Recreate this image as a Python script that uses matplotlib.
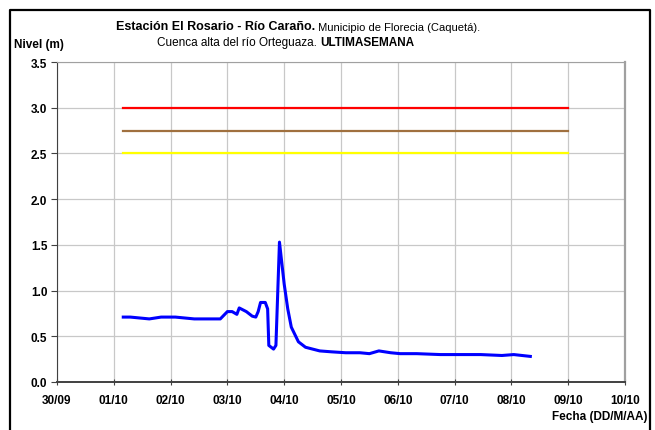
import pandas as pd
import matplotlib
matplotlib.use("Agg")
import matplotlib.pyplot as plt
import matplotlib.dates as mdates

plt.rcParams["font.family"] = ["Liberation Sans", "DejaVu Sans"]

# serie de nivel (m)
fechas = [
    "2024-10-01 04:00", "2024-10-01 07:00", "2024-10-01 11:00", "2024-10-01 15:00",
    "2024-10-01 20:00", "2024-10-02 02:00", "2024-10-02 06:00", "2024-10-02 10:00",
    "2024-10-02 17:00", "2024-10-02 21:00", "2024-10-03 00:00", "2024-10-03 02:00",
    "2024-10-03 04:00", "2024-10-03 05:00", "2024-10-03 08:00", "2024-10-03 10:30",
    "2024-10-03 12:00", "2024-10-03 13:00", "2024-10-03 14:00", "2024-10-03 16:00",
    "2024-10-03 17:00", "2024-10-03 17:30", "2024-10-03 19:30", "2024-10-03 20:30",
    "2024-10-03 22:00", "2024-10-04 00:00", "2024-10-04 01:30", "2024-10-04 03:00",
    "2024-10-04 06:00", "2024-10-04 09:00", "2024-10-04 12:00", "2024-10-04 15:00",
    "2024-10-04 20:00", "2024-10-05 02:00", "2024-10-05 08:00", "2024-10-05 12:00",
    "2024-10-05 16:00", "2024-10-05 21:00", "2024-10-06 01:00", "2024-10-06 08:00",
    "2024-10-06 18:00", "2024-10-07 03:00", "2024-10-07 11:00", "2024-10-07 20:00",
    "2024-10-08 01:00", "2024-10-08 08:00",
]
nivel = [
    0.71, 0.71, 0.70, 0.69,
    0.71, 0.71, 0.70, 0.69,
    0.69, 0.69, 0.77, 0.77,
    0.74, 0.81, 0.77, 0.72,
    0.71, 0.77, 0.87, 0.87,
    0.80, 0.40, 0.36, 0.40,
    1.53, 1.07, 0.80, 0.60,
    0.44, 0.38, 0.36, 0.34,
    0.33, 0.32, 0.32, 0.31,
    0.34, 0.32, 0.31, 0.31,
    0.30, 0.30, 0.30, 0.29,
    0.30, 0.28,
]

# umbrales de alerta
umbral_inicio = "2024-10-01 04:00"
umbral_fin = "2024-10-09 00:00"
umbral_roja = 3.0
umbral_naranja = 2.75
umbral_amarilla = 2.5

x_inicio = "2024-09-30"
x_fin = "2024-10-10"

fig = plt.figure(figsize=(6.55, 4.31), dpi=100)
ax = fig.add_axes([57 / 655, 1 - 383 / 431, (625 - 57) / 655, (383 - 63) / 431])

t = pd.to_datetime(fechas)
t0, t1 = pd.to_datetime([umbral_inicio, umbral_fin])

ax.plot([t0, t1], [umbral_roja] * 2, color="#ff0000", lw=1.6, zorder=3)
ax.plot([t0, t1], [umbral_naranja] * 2, color="#a0703f", lw=1.6, zorder=3)
ax.plot([t0, t1], [umbral_amarilla] * 2, color="#ffff00", lw=1.6, zorder=3)
ax.plot(t, nivel, color="#0000ff", lw=2.2, zorder=4)

ax.set_xlim(pd.to_datetime(x_inicio), pd.to_datetime(x_fin))
ax.set_ylim(0, 3.5)
ax.set_yticks([0, 0.5, 1.0, 1.5, 2.0, 2.5, 3.0, 3.5])
ax.yaxis.set_major_formatter(matplotlib.ticker.FormatStrFormatter("%.1f"))
ax.xaxis.set_major_locator(mdates.DayLocator())
ax.xaxis.set_major_formatter(mdates.DateFormatter("%d/%m"))

ax.grid(True, color="#c8c8c8", lw=0.9, zorder=0)
for lab in ax.get_xticklabels() + ax.get_yticklabels():
    lab.set_fontweight("bold")
    lab.set_fontsize(8.5)
ax.tick_params(axis="x", direction="inout", length=5, width=0.8, color="#404040", pad=6)
ax.tick_params(axis="y", direction="out", length=4, width=0.8, color="#404040", pad=3)
ax.spines["left"].set_color("#404040")
ax.spines["bottom"].set_color("#404040")
ax.spines["bottom"].set_linewidth(1.4)
ax.spines["top"].set_color("#a0a0a0")
ax.spines["right"].set_color("#a0a0a0")
ax.spines["right"].set_linewidth(1.6)

# marco exterior
fig.add_artist(plt.Line2D([10 / 655, 10 / 655, 650 / 655, 650 / 655],
                          [0, 1 - 11 / 431, 1 - 11 / 431, 0],
                          transform=fig.transFigure, color="black", lw=1.6))

# titulo en dos lineas con partes en negrita
a = fig.text(116 / 655, 1 - 27 / 431, "Estación El Rosario - Río Caraño.",
             fontsize=9, fontweight="bold", va="center")
ax.annotate(" Municipio de Florecia (Caquetá).", xy=(1, 0), xycoords=a,
            fontsize=8, va="bottom", annotation_clip=False)
c = fig.text(157 / 655, 1 - 43 / 431, "Cuenca alta del río Orteguaza. ",
             fontsize=8.5, va="center")
ax.annotate("ULTIMASEMANA", xy=(1, 0), xycoords=c, fontsize=8.5,
            fontweight="bold", va="bottom", annotation_clip=False)

fig.text(14 / 655, 1 - 45 / 431, "Nivel (m)", fontsize=8.5, fontweight="bold", va="center")
fig.text(648 / 655, 1 - 417 / 431, "Fecha (DD/M/AA)", fontsize=8.5,
         fontweight="bold", va="center", ha="right")

fig.savefig("out.png", dpi=100)
